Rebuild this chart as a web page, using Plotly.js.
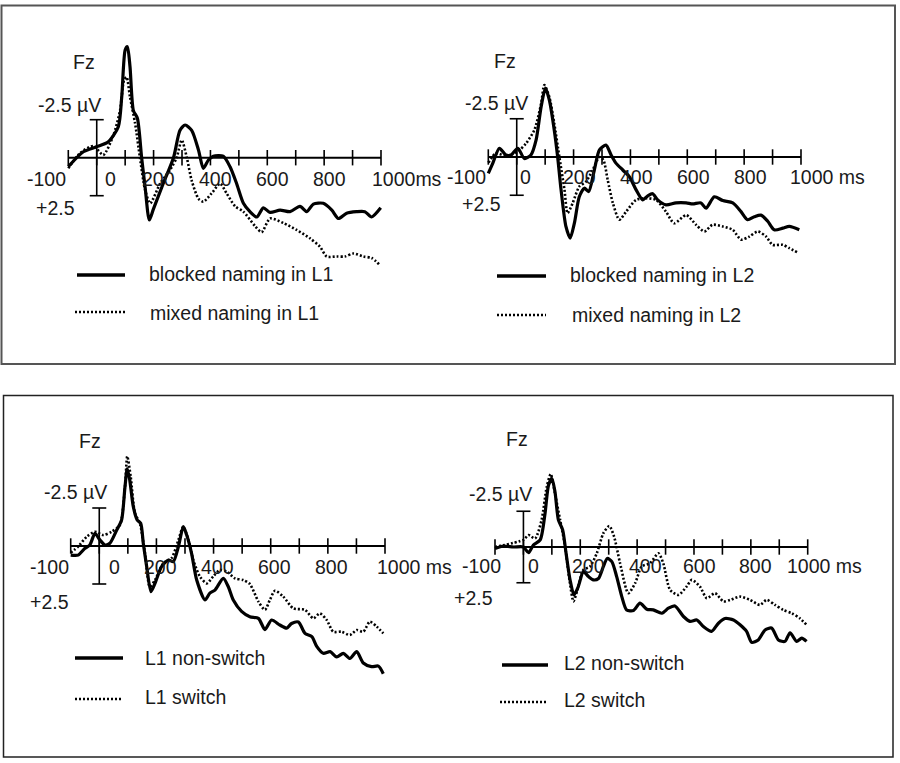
<!DOCTYPE html>
<html>
<head>
<meta charset="utf-8">
<script src="https://cdn.plot.ly/plotly-3.0.1.min.js"></script>
<style>html,body{margin:0;padding:0;background:#fff;}#chart{width:900px;height:763px;}</style>
</head>
<body>
<div id="chart"></div>
<script>
// ---------------- DATA (µV at Fz; negative plotted upward) ----------------
const tickValues = [-100, 0, 100, 200, 300, 400, 500, 600, 700, 800, 900, 1000];
const tickLabelValues = [-100, 0, 200, 400, 600, 800, 1000];
const tickLabelsA = ['-100', '0', '200', '400', '600', '800', '1000ms'];
const tickLabelsB = ['-100', '0', '200', '400', '600', '800', '1000 ms'];
const scaleBar = [-2.5, 2.5];
const electrode = 'Fz';
const scaleTopLabel = '-2.5 µV';
const scaleBottomLabel = '+2.5';

const seriesNames = ['blocked naming in L1', 'mixed naming in L1', 'blocked naming in L2', 'mixed naming in L2',
                     'L1 non-switch', 'L1 switch', 'L2 non-switch', 'L2 switch'];

const l1BlockedT = [-100,-47,0,41,76,88,100,108,117,129,143,158,170,185,199,234,270,293,311,334,358,375,393,410,445,469,492,516,539,563,586,610,645,680,715,739,762,797,827,850,879,914,943,967,999];
const l1BlockedV = [0.59,-0.39,-0.72,-1.05,-2.04,-4.0,-7.08,-7.3,-6.0,-3.1,-2.6,0,1.9,4.1,3.4,1.7,0,-1.8,-2.15,-1.8,-0.5,0.7,0.15,-0.1,-0.1,0.6,1.7,3.0,3.55,3.9,3.3,3.6,3.45,3.55,3.2,3.55,3.05,3.0,3.45,4.0,3.65,3.55,3.55,3.9,3.3];

const l1MixedT = [-100,-59,-12,23,59,82,96,105,117,135,152,170,188,223,258,281,299,317,334,358,375,404,434,457,487,516,557,580,610,657,703,750,785,809,844,873,903,938,967,996];
const l1MixedV = [0.7,-0.3,-0.77,-0.18,-1.5,-3.1,-5.1,-5.3,-4.0,-2.26,0,2.1,3.0,1.7,0.8,0,-1.16,0,1.5,2.7,2.9,2.35,1.7,2.35,3.2,3.55,4.5,4.9,4.0,4.3,4.75,5.3,5.85,6.5,6.5,6.5,6.3,6.5,6.6,7.06];

const l2BlockedT = [-100,-84,-61,-38,-20,4,27,50,68,86,101,115,132,144,156,173,188,203,220,238,253,273,291,314,332,349,373,396,420,443,461,478,496,525,560,596,619,648,666,695,725,760,789,812,836,859,883,906,936,959,994];
const l2BlockedV = [1.07,0.4,-0.57,-0.13,-0.13,-0.57,0.1,-0.13,-1.1,-3.3,-4.5,-3.7,-1.76,0,2.15,4.54,5.3,4.3,2.6,2.04,2.26,0.85,-0.46,-0.78,-0.13,0.4,0.85,1.28,2.15,2.8,2.54,2.4,2.8,3.13,3.0,3.0,3.07,3.0,3.35,2.6,2.85,3.0,3.57,4.1,3.9,3.8,4.2,4.76,4.65,4.54,4.76];

const l2MixedT = [-100,-73,-38,4,33,62,86,97,115,132,150,168,179,197,220,244,267,291,305,320,338,361,385,420,455,490,525,554,596,631,660,689,725,760,789,818,848,877,900,936,959,988];
const l2MixedV = [0.37,-0.24,-0.07,-0.35,-0.9,-1.76,-3.5,-4.7,-3.9,-2.2,0,2.15,3.67,3.0,1.93,1.6,0.85,0,0.2,1.5,3.0,4.1,3.57,2.8,2.7,2.8,3.57,4.33,3.8,4.43,4.87,4.43,4.54,4.76,5.4,5.2,4.87,5.2,5.74,5.74,5.96,6.24];

const l1NonSwitchT = [-100,-74,-50,-33,-15,2,20,37,61,78,90,98,107,119,133,145,154,166,181,195,218,242,259,277,294,306,323,341,370,387,405,434,452,469,498,527,557,580,603,632,656,673,697,720,744,761,784,808,831,854,877,901,924,953,977,994];
const l1NonSwitchV = [0.6,0.6,0.15,-0.07,-0.83,-0.4,-0.07,-0.18,-1.05,-1.7,-3.9,-5.1,-4.3,-2.6,-1.7,-1.5,-0.18,1.36,3.0,2.46,1.36,0.92,1.03,0.04,-1.27,-0.72,0.48,2.24,3.55,3.1,2.9,2.13,2.7,3.55,4.3,4.65,4.76,5.5,4.87,5.2,5.4,5.1,5.0,5.75,5.96,6.6,7.06,6.95,7.3,7.06,7.4,6.95,7.7,7.94,7.9,8.4];

const l1SwitchT = [-100,-74,-44,-15,14,43,72,90,98,110,125,142,160,177,195,224,253,277,294,312,329,352,376,399,422,446,475,504,527,557,580,597,615,644,679,720,749,772,796,819,848,877,901,924,947,971,994];
const l1SwitchV = [0.44,0.04,-0.61,-0.94,-0.72,-0.94,-1.38,-3.9,-5.9,-4.56,-2.15,-1.5,0.48,2.68,2.24,1.14,0.8,-0.4,-1.27,-0.4,0.92,2.0,2.46,2.0,1.58,1.69,2.13,2.24,2.5,3.66,4.2,3.55,2.94,3.33,4.1,4.2,4.76,4.43,4.87,5.64,5.64,5.86,5.53,5.64,4.98,5.3,5.75];

const l2NonSwitchT = [-100,-70,-35,0,18,35,59,76,88,100,111,123,138,150,164,178,193,211,229,246,264,281,295,311,328,346,363,387,410,434,457,487,510,533,563,586,610,633,662,686,709,739,762,785,803,826,850,873,897,920,938,961,979,996];
const l2NonSwitchV = [0.1,-0.07,0,0,0.4,-0.14,-0.5,-2.35,-4.3,-4.8,-3.86,-1.9,-1.2,0.44,2.3,3.35,2.77,1.72,2.07,2.3,2.2,1.37,0.8,1.02,2.07,3.47,4.4,4.44,3.93,4.35,4.4,4.63,4.28,4.12,4.86,5.2,5.1,5.56,5.9,5.33,5.0,5.1,5.44,5.9,6.67,6.5,5.8,5.67,6.5,6.6,6.0,6.6,6.37,6.6];

const l2SwitchT = [-100,0,18,41,64,82,96,111,129,147,162,176,190,211,234,258,281,302,319,340,369,393,416,445,475,492,516,545,574,592,621,645,674,703,727,762,797,832,856,885,914,944,973,996];
const l2SwitchV = [0,-0.5,-0.84,-0.6,-1.9,-4.2,-5.1,-3.74,-1.9,0,2.3,3.8,3.0,1.6,1.37,0.44,-0.95,-1.47,-0.72,1.14,3.23,2.53,1.37,1.14,0.44,1.14,3.0,3.35,2.77,2.3,2.77,3.58,3.23,3.8,3.7,3.47,3.7,4.05,3.7,4.05,4.4,4.63,5.0,5.44];

// ---------------- LAYOUT GEOMETRY (pixels) ----------------
const W = 900, H = 763;
const FONT = {family: 'Arial, "Liberation Sans", sans-serif', size: 19.5, color: '#1a1a1a'};

const panels = [
  {x0: 68.3, x1: 381, zero: 157.7, k: 15.2, top: 18, bottom: 352, labels: tickLabelsA,
   tickDy: 21, lblShift: [0, 14, 5, 5, 5, 5, -11], fz: [0, -96], uv: [-61, -53], pl: [-20, 50],
   series: [[l1BlockedT, l1BlockedV, 'solid'], [l1MixedT, l1MixedV, 'dot']], names: [0, 1],
   leg: [[77, 125, 275, 147, 274], [75, 125, 312, 148, 313]]},
  {x0: 488.3, x1: 801, zero: 157, k: 15.3, top: 18, bottom: 352, labels: tickLabelsB,
   tickDy: 19.5, lblShift: [0, 9, 6, 6, 6, 6, -13], fz: [1, -96], uv: [-54, -54], pl: [-14, 47],
   series: [[l2BlockedT, l2BlockedV, 'solid'], [l2MixedT, l2MixedV, 'dot']], names: [2, 3],
   leg: [[497, 546, 276, 568, 275], [497, 546, 315, 570, 315]]},
  {x0: 70.7, x1: 385, zero: 546, k: 15.2, top: 405, bottom: 748, labels: tickLabelsB,
   tickDy: 20.5, lblShift: [0, 15, 4, 4, 4, 4, -10], fz: [4, -105], uv: [-57, -54], pl: [-28, 56],
   series: [[l1NonSwitchT, l1NonSwitchV, 'solid'], [l1SwitchT, l1SwitchV, 'dot']], names: [4, 5],
   leg: [[75, 123, 658, 143, 658], [75, 122, 699, 143, 697]]},
  {x0: 495, x1: 807.7, zero: 547, k: 14.3, top: 405, bottom: 748, labels: tickLabelsB,
   tickDy: 19, lblShift: [8, 10, 8, 8, 6, 5, -23], fz: [7, -108], uv: [-56, -53], pl: [-28, 51],
   series: [[l2NonSwitchT, l2NonSwitchV, 'solid'], [l2SwitchT, l2SwitchV, 'dot']], names: [6, 7],
   leg: [[502, 548, 665, 562, 663], [500, 548, 702, 562, 700]]}
];

const traces = [], annotations = [], shapes = [];
const layout = {width: W, height: H, margin: {l: 0, r: 0, t: 0, b: 0}, showlegend: false,
  paper_bgcolor: '#fff', plot_bgcolor: 'rgba(0,0,0,0)', font: FONT};

const px = v => v / W, py = v => 1 - v / H;

panels.forEach((p, i) => {
  const n = i === 0 ? '' : String(i + 1);
  const xa = 'x' + n, ya = 'y' + n;
  const kx = (p.x1 - p.x0) / 1100;
  const t0 = -140, t1 = 1040;
  const pl = p.x0 + (t0 + 100) * kx, pr = p.x0 + (t1 + 100) * kx;
  const vTop = (p.top - p.zero) / p.k, vBot = (p.bottom - p.zero) / p.k;
  layout['xaxis' + n] = {domain: [px(pl), px(pr)], range: [t0, t1], visible: false, fixedrange: true, anchor: ya};
  layout['yaxis' + n] = {domain: [py(p.bottom), py(p.top)], range: [vBot, vTop], visible: false, fixedrange: true, anchor: xa};

  // time axis line
  traces.push({x: [tickValues[0], tickValues[tickValues.length - 1]], y: [0, 0], xaxis: xa, yaxis: ya,
    mode: 'lines', line: {color: '#000', width: 2}, hoverinfo: 'skip'});
  // tick marks
  traces.push({x: tickValues, y: tickValues.map(() => 0), xaxis: xa, yaxis: ya, mode: 'markers',
    marker: {symbol: 'line-ns', size: 11, line: {color: '#000', width: 1.6}}, hoverinfo: 'skip', cliponaxis: false});
  // voltage scale bar
  traces.push({x: [0, 0], y: scaleBar, xaxis: xa, yaxis: ya, mode: 'lines+markers',
    line: {color: '#000', width: 1.6}, marker: {symbol: 'line-ew', size: 10, line: {color: '#000', width: 1.6}},
    hoverinfo: 'skip', cliponaxis: false});
  // ERP curves
  p.series.forEach((s, j) => {
    const dotted = s[2] === 'dot';
    traces.push({x: s[0], y: s[1], xaxis: xa, yaxis: ya, mode: 'lines', name: seriesNames[p.names[j]],
      line: {color: '#000', width: dotted ? 2.6 : 3.2, dash: dotted ? '2px,2px' : 'solid', shape: 'spline', smoothing: 0.7}});
  });

  // tick labels
  tickLabelValues.forEach((tv, j) => {
    const anchor = j === 0 ? 'right' : (j === tickLabelValues.length - 1 ? 'left' : 'center');
    annotations.push({xref: xa, yref: ya, x: tv, y: 0, text: p.labels[j], showarrow: false,
      xanchor: anchor, yanchor: 'middle', xshift: p.lblShift[j], yshift: -p.tickDy, font: FONT});
  });
  // electrode + scale labels
  annotations.push({xref: xa, yref: ya, x: 0, y: 0, text: electrode, showarrow: false, xanchor: 'right',
    yanchor: 'middle', xshift: p.fz[0], yshift: -p.fz[1], font: FONT});
  annotations.push({xref: xa, yref: ya, x: 0, y: 0, text: scaleTopLabel, showarrow: false, xanchor: 'left',
    yanchor: 'middle', xshift: p.uv[0], yshift: -p.uv[1], font: FONT});
  annotations.push({xref: xa, yref: ya, x: 0, y: 0, text: scaleBottomLabel, showarrow: false, xanchor: 'right',
    yanchor: 'middle', xshift: p.pl[0], yshift: -p.pl[1], font: FONT});

  // legend
  p.leg.forEach((L, j) => {
    const dotted = p.series[j][2] === 'dot';
    shapes.push({type: 'line', xref: 'paper', yref: 'paper', x0: px(L[0]), x1: px(L[1]), y0: py(L[2]), y1: py(L[2]),
      line: {color: '#000', width: dotted ? 2.4 : 3.4, dash: dotted ? '2px,2px' : 'solid'}});
    annotations.push({xref: 'paper', yref: 'paper', x: px(L[3]), y: py(L[4]), text: seriesNames[p.names[j]],
      showarrow: false, xanchor: 'left', yanchor: 'middle', font: FONT});
  });
});

// panel frames
shapes.push({type: 'rect', xref: 'paper', yref: 'paper', x0: px(1.5), x1: px(895), y0: py(364), y1: py(5.5),
  line: {color: '#555', width: 2}});
shapes.push({type: 'rect', xref: 'paper', yref: 'paper', x0: px(3.5), x1: px(893), y0: py(757), y1: py(395.5),
  line: {color: '#222', width: 1.5}});

layout.annotations = annotations;
layout.shapes = shapes;

Plotly.newPlot('chart', traces, layout, {staticPlot: true, displayModeBar: false});
</script>
</body>
</html>
